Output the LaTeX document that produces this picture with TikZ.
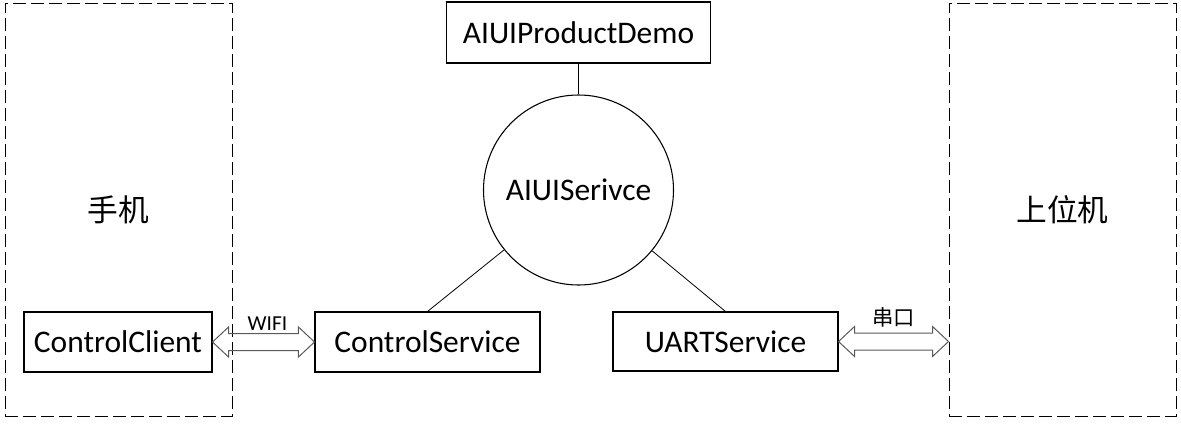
\documentclass[tikz,border=0pt]{standalone}
\usepackage{fontspec}
\setmainfont{Carlito}
\newfontfamily\cjk{Noto Sans CJK SC}
\usetikzlibrary{calc}

\begin{document}
\begin{tikzpicture}[x=0.75pt,y=-0.75pt,
  box/.style={draw, line width=0.8pt, inner sep=0pt, font=\fontsize{23.6pt}{28pt}\selectfont},
  side/.style={draw, dash pattern=on 9.75pt off 3.75pt, line width=0.75pt, minimum width=170.25pt, minimum height=309.75pt, font=\cjk\fontsize{23pt}{28pt}\selectfont},
  dblarr/.style={draw=black!65, line width=0.75pt, line join=miter},
  lbl/.style={inner sep=0pt, font=\fontsize{16pt}{19pt}\selectfont}]
\useasboundingbox (0,0) rectangle (1181,425);
\node[side](phone) at (118.5,209.5) {手机};
\node[side](host) at (1062.5,209.5) {上位机};
\node[box, minimum width=198pt, minimum height=45.75pt](demo) at (578.5,32.5) {AIUIProductDemo};
\node[box, circle, minimum size=142.5pt](svc) at (578.5,190) {AIUISerivce};
\node[box, minimum width=141pt, minimum height=45pt](cc) at (118,342) {ControlClient};
\node[box, minimum width=168.75pt, minimum height=45pt](cs) at (427.5,342) {ControlService};
\node[box, minimum width=168.75pt, minimum height=44.25pt](ua) at (725.5,341.5) {UARTService};
\coordinate(hw) at (ua.east -| host.west);
%
\draw[line width=0.6pt](demo) -- (svc);
\draw[line width=0.6pt](svc) -- (cs.north);
\draw[line width=0.6pt](svc) -- (ua.north);
%
\draw[dblarr](cc.east) -- ++(16,-15) -- ++(0,6.5) -- ($(cs.west)+(-16,-8.5)$) node[pos=0.5, above=2pt, xshift=3pt, lbl]{WIFI} -- ++(0,-6.5) -- (cs.west) -- ++(-16,15) -- ++(0,-6.5) -- ($(cc.east)+(16,8.5)$) -- ++(0,6.5) -- cycle;
\draw[dblarr](ua.east) -- ++(16,-15) -- ++(0,6.5) -- ($(hw)+(-16,-8.5)$) node[pos=0.5, above=4pt, lbl, font=\cjk\fontsize{16pt}{19pt}\selectfont]{串口} -- ++(0,-6.5) -- (hw) -- ++(-16,15) -- ++(0,-6.5) -- ($(ua.east)+(16,8.5)$) -- ++(0,6.5) -- cycle;
\end{tikzpicture}
\end{document}
